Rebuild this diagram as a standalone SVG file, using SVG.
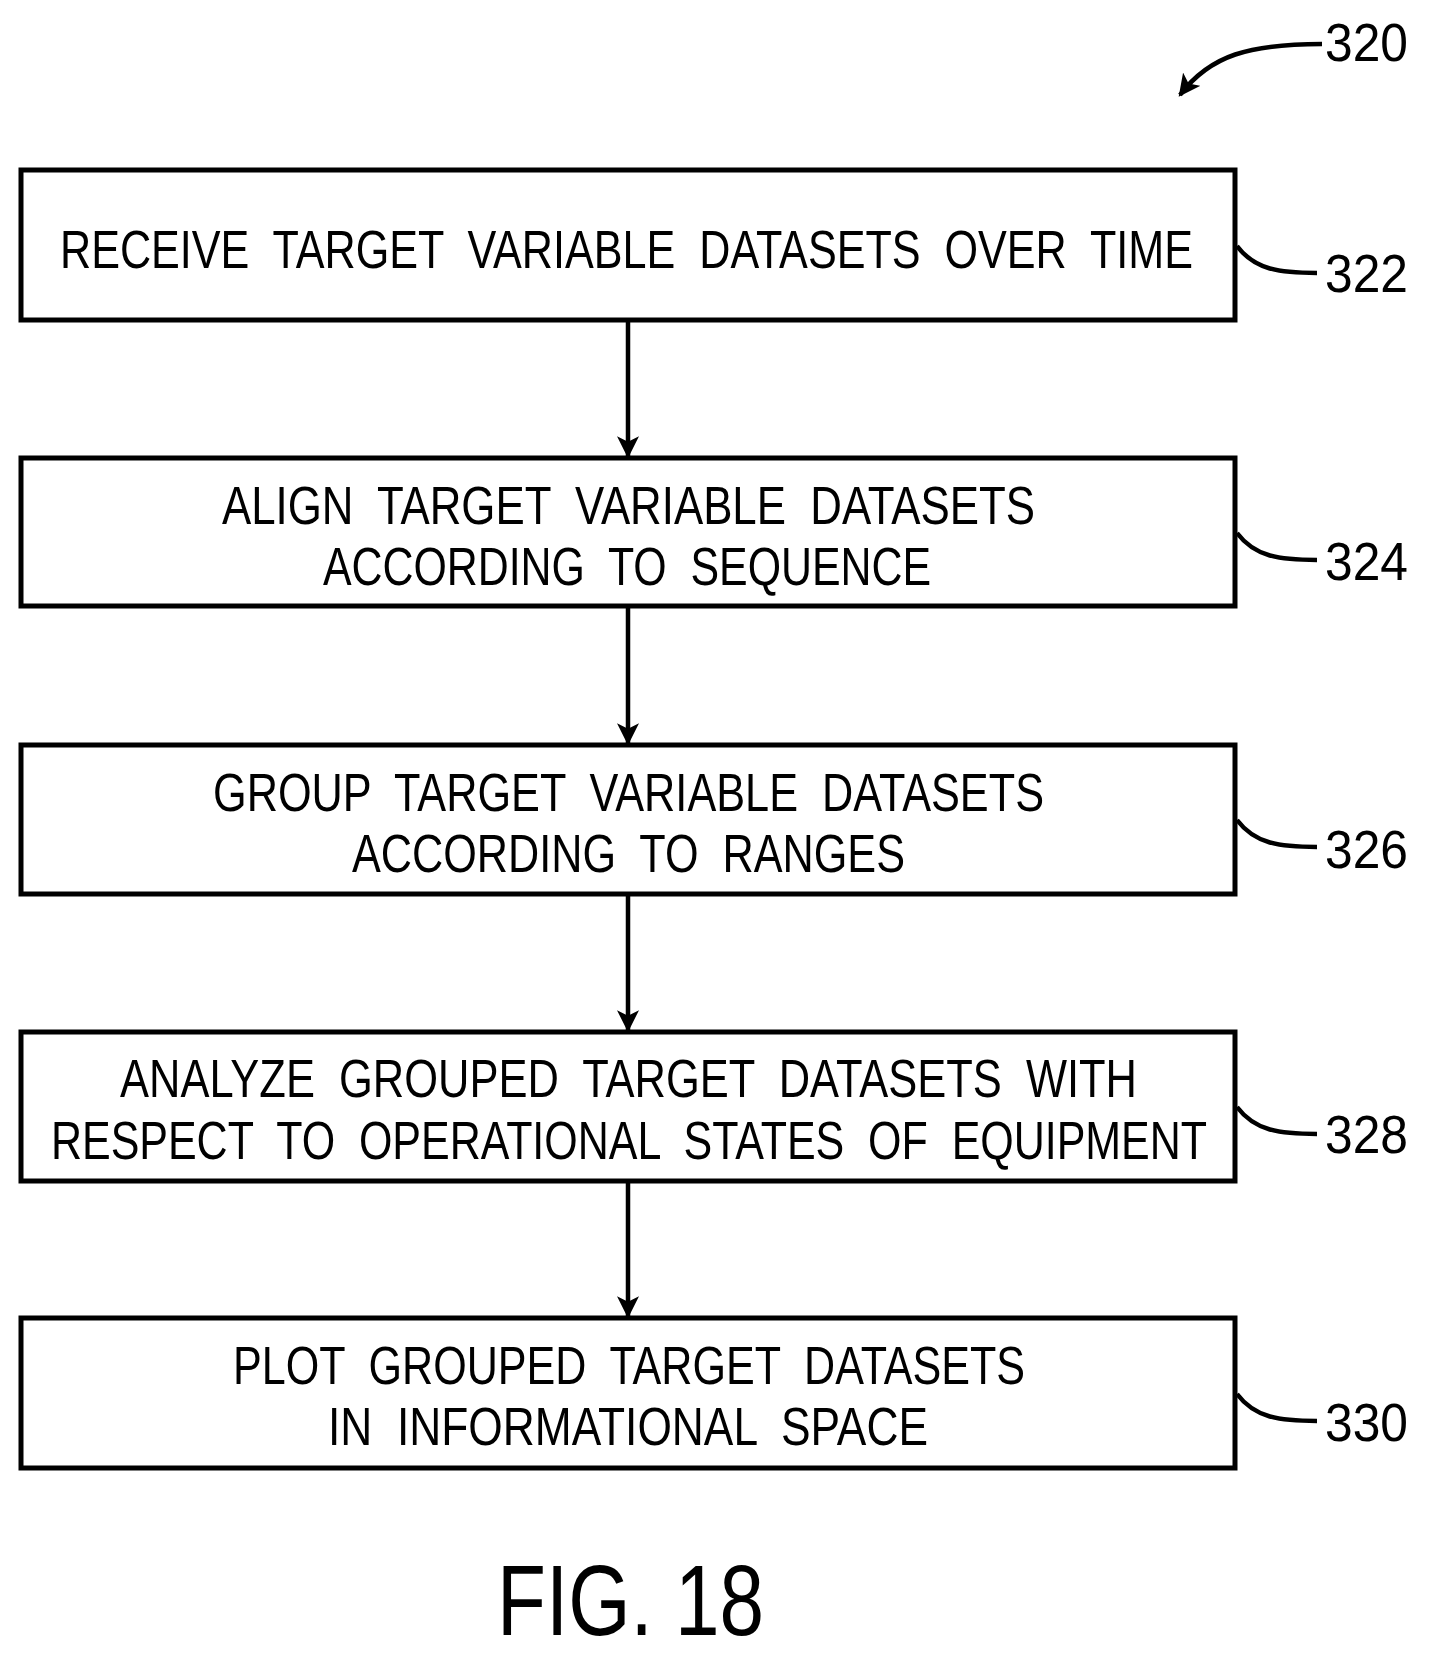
<svg xmlns="http://www.w3.org/2000/svg" width="1433" height="1663" viewBox="0 0 1433 1663">
<style>
.b{fill:#fff;stroke:#000;stroke-width:5}
.t{font-family:"Liberation Sans",sans-serif;font-size:54px;fill:#000;white-space:pre}
.c{stroke:#000;stroke-width:4.5;fill:none}
</style>
<defs>
<marker id="h" viewBox="0 0 20 20" markerWidth="22" markerHeight="22" refX="18" refY="10" orient="auto" markerUnits="userSpaceOnUse"><path d="M0,0 L20,10 L0,20 L5,10 Z" fill="#000"/></marker></defs>
<rect width="1433" height="1663" fill="#fff"/>
<g id="connectors">
<line class="c" x1="628" y1="320" x2="628" y2="456" marker-end="url(#h)"/>
<line class="c" x1="628" y1="606" x2="628" y2="743" marker-end="url(#h)"/>
<line class="c" x1="628" y1="894" x2="628" y2="1030" marker-end="url(#h)"/>
<line class="c" x1="628" y1="1181" x2="628" y2="1316" marker-end="url(#h)"/>
<path class="c" d="M1322,44 C1250,44 1210,55 1180,95" marker-end="url(#h)"/>
<path class="c" d="M1237,246 C1255,270 1280,273 1317,273"/>
<path class="c" d="M1237,533 C1255,557 1280,560 1317,560"/>
<path class="c" d="M1237,820 C1255,844 1280,847 1317,847"/>
<path class="c" d="M1237,1107 C1255,1131 1280,1134 1317,1134"/>
<path class="c" d="M1237,1394 C1255,1418 1280,1421 1317,1421"/>
</g>
<g id="n320"><text class="t" x="1325" y="61" textLength="83" lengthAdjust="spacingAndGlyphs">320</text></g>
<g id="n322"><rect class="b" x="21" y="170" width="1214" height="150"/><text class="t" x="60" y="268" textLength="1133" lengthAdjust="spacingAndGlyphs">RECEIVE  TARGET  VARIABLE  DATASETS  OVER  TIME</text><text class="t" x="1325" y="292" textLength="83" lengthAdjust="spacingAndGlyphs">322</text></g>
<g id="n324"><rect class="b" x="21" y="458" width="1214" height="148"/><text class="t" x="222" y="524" textLength="813" lengthAdjust="spacingAndGlyphs">ALIGN  TARGET  VARIABLE  DATASETS</text><text class="t" x="323" y="585" textLength="608" lengthAdjust="spacingAndGlyphs">ACCORDING  TO  SEQUENCE</text><text class="t" x="1325" y="580" textLength="83" lengthAdjust="spacingAndGlyphs">324</text></g>
<g id="n326"><rect class="b" x="21" y="745" width="1214" height="149"/><text class="t" x="213" y="811" textLength="831" lengthAdjust="spacingAndGlyphs">GROUP  TARGET  VARIABLE  DATASETS</text><text class="t" x="352" y="872" textLength="553" lengthAdjust="spacingAndGlyphs">ACCORDING  TO  RANGES</text><text class="t" x="1325" y="868" textLength="83" lengthAdjust="spacingAndGlyphs">326</text></g>
<g id="n328"><rect class="b" x="21" y="1032" width="1214" height="149"/><text class="t" x="120" y="1097" textLength="1017" lengthAdjust="spacingAndGlyphs">ANALYZE  GROUPED  TARGET  DATASETS  WITH</text><text class="t" x="51" y="1159" textLength="1156" lengthAdjust="spacingAndGlyphs">RESPECT  TO  OPERATIONAL  STATES  OF  EQUIPMENT</text><text class="t" x="1325" y="1153" textLength="83" lengthAdjust="spacingAndGlyphs">328</text></g>
<g id="n330"><rect class="b" x="21" y="1318" width="1214" height="150"/><text class="t" x="233" y="1384" textLength="792" lengthAdjust="spacingAndGlyphs">PLOT  GROUPED  TARGET  DATASETS</text><text class="t" x="328" y="1445" textLength="600" lengthAdjust="spacingAndGlyphs">IN  INFORMATIONAL  SPACE</text><text class="t" x="1325" y="1441" textLength="83" lengthAdjust="spacingAndGlyphs">330</text></g>
<text class="t" x="497" y="1635" style="font-size:100px" textLength="267" lengthAdjust="spacingAndGlyphs">FIG. 18</text>
</svg>
